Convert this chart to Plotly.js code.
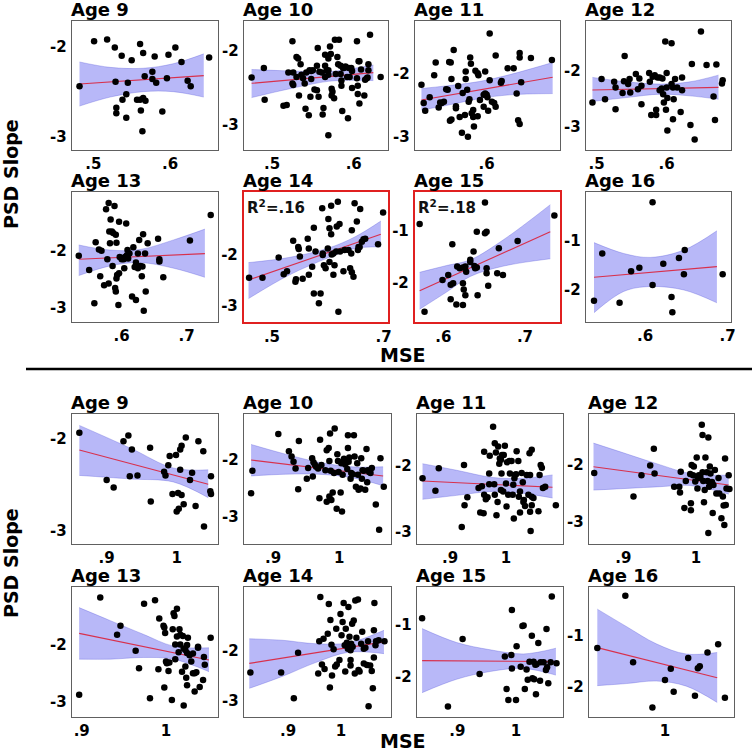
<!DOCTYPE html>
<html>
<head>
<meta charset="utf-8">
<script src="https://cdn.plot.ly/plotly-3.0.1.min.js"></script>
<style>html,body{margin:0;padding:0;background:#fff;}#chart{width:752px;height:751px;}</style>
</head>
<body>
<div id="chart"></div>
<script>
// ---------- DATA (MSE, PSD slope) ----------
const ages = [9, 10, 11, 12, 13, 14, 15, 16];
const groupLabels = ["top", "bottom"];
const r2Labels = {5: "R<sup>2</sup>=.16", 6: "R<sup>2</sup>=.18"};

const top9 = [[0.482,-2.44],[0.501,-1.94],[0.518,-1.92],[0.528,-2.01],[0.537,-2.10],[0.550,-2.15],[0.561,-1.97],[0.565,-2.07],[0.580,-2.11],[0.598,-2.09],[0.607,-2.01],[0.615,-2.17],[0.651,-2.12],[0.529,-2.39],[0.545,-2.40],[0.543,-2.53],[0.538,-2.59],[0.530,-2.68],[0.530,-2.74],[0.543,-2.79],[0.557,-2.59],[0.561,-2.59],[0.565,-2.57],[0.568,-2.60],[0.562,-2.71],[0.564,-2.94],[0.590,-2.72],[0.567,-2.33],[0.577,-2.28],[0.577,-2.36],[0.582,-2.40],[0.596,-2.35],[0.623,-2.38],[0.627,-2.44]];
const top10 = [[0.475,-2.36],[0.490,-2.23],[0.491,-2.66],[0.514,-2.74],[0.518,-2.73],[0.520,-2.29],[0.525,-1.87],[0.526,-2.29],[0.525,-2.44],[0.526,-2.46],[0.530,-2.08],[0.532,-2.10],[0.530,-2.35],[0.533,-2.60],[0.535,-2.18],[0.536,-2.32],[0.538,-2.37],[0.540,-2.44],[0.541,-2.78],[0.542,-2.29],[0.545,-2.87],[0.546,-2.26],[0.547,-2.62],[0.548,-2.38],[0.548,-2.27],[0.550,-2.26],[0.555,-2.20],[0.556,-1.96],[0.557,-2.62],[0.558,-2.28],[0.561,-2.29],[0.562,-2.86],[0.565,-2.05],[0.565,-2.20],[0.565,-2.35],[0.567,-2.26],[0.569,-2.10],[0.569,-2.26],[0.569,-2.32],[0.571,-1.94],[0.572,-2.04],[0.573,-2.60],[0.573,-2.51],[0.574,-2.55],[0.576,-2.64],[0.577,-1.85],[0.578,-2.31],[0.580,-2.08],[0.581,-2.18],[0.582,-1.85],[0.584,-2.20],[0.584,-2.31],[0.585,-2.40],[0.585,-2.47],[0.586,-2.81],[0.587,-2.23],[0.588,-2.23],[0.590,-2.21],[0.592,-2.35],[0.593,-2.91],[0.594,-2.23],[0.595,-2.35],[0.597,-2.23],[0.598,-2.27],[0.598,-2.50],[0.604,-1.87],[0.604,-2.37],[0.605,-2.47],[0.605,-2.58],[0.606,-2.14],[0.607,-2.14],[0.607,-2.71],[0.609,-2.25],[0.613,-2.60],[0.614,-2.39],[0.616,-2.37],[0.617,-2.36],[0.618,-2.26],[0.618,-2.18],[0.620,-1.78],[0.633,-2.35],[0.569,-3.14],[0.563,-2.77],[0.555,-2.53],[0.552,-2.52]];
const top11 = [[0.513,-2.18],[0.516,-2.47],[0.518,-2.59],[0.524,-2.38],[0.530,-2.03],[0.532,-1.83],[0.536,-2.54],[0.538,-2.46],[0.540,-2.47],[0.543,-2.45],[0.546,-2.25],[0.548,-2.26],[0.550,-1.82],[0.552,-1.83],[0.553,-2.09],[0.556,-1.63],[0.559,-2.55],[0.559,-2.52],[0.551,-2.75],[0.553,-2.73],[0.562,-2.20],[0.564,-2.69],[0.568,-2.31],[0.571,-2.66],[0.572,-1.97],[0.572,-2.09],[0.574,-2.26],[0.576,-2.45],[0.577,-2.41],[0.578,-1.75],[0.579,-1.85],[0.580,-2.63],[0.582,-2.69],[0.582,-2.58],[0.583,-2.84],[0.585,-1.96],[0.588,-2.00],[0.588,-2.68],[0.589,-2.03],[0.591,-2.42],[0.596,-2.34],[0.598,-1.97],[0.598,-2.32],[0.596,-2.53],[0.600,-2.34],[0.601,-2.38],[0.602,-2.59],[0.604,-1.37],[0.604,-2.11],[0.607,-2.45],[0.610,-2.47],[0.612,-2.53],[0.612,-1.72],[0.619,-2.15],[0.620,-2.12],[0.628,-1.92],[0.567,-2.94],[0.575,-3.00],[0.636,-1.92],[0.640,-2.32],[0.642,-2.74],[0.644,-2.80],[0.644,-1.68],[0.644,-1.75],[0.646,-2.14],[0.659,-1.76],[0.687,-1.79]];
const top12 = [[0.494,-2.57],[0.507,-2.15],[0.512,-2.51],[0.525,-2.20],[0.527,-2.30],[0.527,-2.69],[0.537,-2.40],[0.540,-1.74],[0.539,-2.19],[0.547,-2.15],[0.545,-2.24],[0.548,-2.39],[0.556,-2.06],[0.559,-2.33],[0.561,-2.14],[0.564,-2.27],[0.564,-2.60],[0.575,-2.04],[0.576,-2.20],[0.578,-2.79],[0.580,-2.11],[0.583,-2.08],[0.585,-2.79],[0.585,-2.70],[0.587,-2.12],[0.590,-2.35],[0.590,-2.12],[0.593,-2.32],[0.594,-2.14],[0.595,-2.42],[0.596,-2.57],[0.598,-1.48],[0.599,-2.70],[0.600,-2.04],[0.601,-2.49],[0.600,-2.30],[0.601,-3.07],[0.607,-1.51],[0.607,-2.24],[0.609,-2.87],[0.609,-2.30],[0.610,-2.51],[0.612,-2.15],[0.615,-2.30],[0.620,-2.74],[0.622,-2.35],[0.622,-2.12],[0.634,-2.97],[0.636,-1.88],[0.640,-3.23],[0.649,-1.30],[0.657,-1.90],[0.667,-2.46],[0.669,-2.88],[0.671,-1.89],[0.679,-2.23],[0.680,-2.17]];
const top13 = [[0.534,-2.09],[0.550,-2.34],[0.558,-2.93],[0.560,-1.85],[0.565,-1.98],[0.567,-2.45],[0.569,-2.00],[0.573,-2.61],[0.576,-1.27],[0.578,-2.15],[0.580,-1.16],[0.580,-2.58],[0.581,-1.66],[0.582,-1.87],[0.583,-1.45],[0.585,-1.66],[0.586,-2.27],[0.587,-1.69],[0.589,-1.21],[0.590,-2.66],[0.591,-2.72],[0.591,-1.72],[0.592,-1.86],[0.592,-2.49],[0.593,-2.43],[0.595,-2.96],[0.596,-1.49],[0.596,-2.40],[0.597,-2.11],[0.600,-2.15],[0.603,-2.15],[0.604,-2.31],[0.605,-2.11],[0.607,-1.52],[0.608,-2.08],[0.609,-1.99],[0.610,-2.14],[0.612,-2.05],[0.616,-2.81],[0.618,-1.94],[0.620,-2.29],[0.622,-2.21],[0.622,-2.87],[0.625,-2.05],[0.625,-2.31],[0.627,-1.81],[0.629,-2.27],[0.631,-2.45],[0.632,-2.28],[0.633,-1.71],[0.634,-3.06],[0.636,-2.05],[0.637,-2.72],[0.640,-1.87],[0.656,-1.79],[0.658,-2.15],[0.658,-2.19],[0.664,-2.47],[0.705,-1.82],[0.737,-1.37]];
const top14 = [[0.459,-2.45],[0.483,-2.45],[0.512,-2.05],[0.521,-2.38],[0.527,-2.32],[0.538,-1.72],[0.542,-2.53],[0.543,-2.48],[0.547,-1.84],[0.548,-1.88],[0.550,-2.03],[0.555,-2.47],[0.564,-1.68],[0.566,-1.87],[0.566,-2.39],[0.572,-2.23],[0.575,-1.46],[0.575,-2.76],[0.578,-1.93],[0.584,-2.95],[0.587,-2.76],[0.590,-1.08],[0.591,-1.97],[0.591,-2.00],[0.593,-2.20],[0.596,-2.26],[0.600,-1.87],[0.601,-1.29],[0.603,-1.47],[0.603,-2.14],[0.606,-1.03],[0.606,-1.59],[0.607,-1.99],[0.610,-1.97],[0.610,-2.39],[0.612,-2.20],[0.615,-1.93],[0.616,-1.44],[0.618,-0.95],[0.619,-3.12],[0.621,-1.39],[0.622,-1.93],[0.628,-2.32],[0.630,-1.90],[0.637,-1.90],[0.640,-2.26],[0.643,-2.34],[0.646,-2.43],[0.643,-1.51],[0.648,-0.98],[0.642,-1.97],[0.652,-1.34],[0.654,-1.90],[0.655,-1.84],[0.657,-1.84],[0.658,-1.09],[0.661,-1.74],[0.664,-1.69],[0.667,-1.68],[0.690,-1.79],[0.699,-1.16]];
const top15 = [[0.571,-0.87],[0.577,-2.56],[0.599,-1.95],[0.606,-1.85],[0.609,-2.04],[0.611,-1.26],[0.612,-2.01],[0.609,-2.32],[0.616,-2.42],[0.624,-1.71],[0.624,-2.01],[0.625,-2.13],[0.627,-1.69],[0.628,-1.79],[0.627,-2.24],[0.624,-2.43],[0.633,-1.60],[0.633,-1.56],[0.637,-1.40],[0.638,-1.68],[0.639,-1.72],[0.641,-1.71],[0.641,-1.02],[0.642,-2.24],[0.651,-0.46],[0.651,-1.05],[0.653,-1.02],[0.653,-1.72],[0.653,-1.82],[0.655,-2.06],[0.666,-1.82],[0.668,-1.34],[0.673,-1.85],[0.691,-1.20],[0.736,-0.71],[0.620,-1.72],[0.617,-1.69]];
const top16 = [[0.538,-2.22],[0.548,-1.26],[0.569,-2.26],[0.583,-1.62],[0.593,-1.55],[0.609,-1.90],[0.609,-0.22],[0.622,-1.47],[0.632,-2.14],[0.633,-2.45],[0.641,-1.35],[0.647,-1.68],[0.648,-1.19],[0.694,-1.68]];

const bot9 = [[0.861,-1.94],[0.900,-2.45],[0.910,-2.53],[0.924,-2.03],[0.931,-1.97],[0.933,-2.41],[0.936,-2.12],[0.944,-2.40],[0.962,-2.10],[0.963,-2.68],[0.982,-2.36],[0.984,-2.40],[0.988,-2.29],[0.990,-2.19],[0.994,-2.60],[0.999,-2.18],[1.000,-2.79],[1.003,-2.76],[1.005,-2.34],[1.002,-2.59],[1.005,-2.12],[1.007,-2.08],[1.007,-2.61],[1.010,-2.71],[1.013,-1.99],[1.019,-2.45],[1.022,-2.37],[1.027,-2.73],[1.031,-2.03],[1.038,-2.14],[1.039,-2.95],[1.049,-2.41],[1.048,-2.57],[1.049,-2.60]];
const bot10 = [[0.867,-2.59],[0.869,-2.20],[0.908,-1.56],[0.924,-1.86],[0.928,-1.95],[0.931,-2.04],[0.934,-2.16],[0.938,-2.52],[0.939,-1.68],[0.951,-2.34],[0.953,-2.15],[0.959,-1.98],[0.960,-2.30],[0.961,-2.05],[0.963,-2.09],[0.965,-2.13],[0.968,-2.16],[0.970,-2.68],[0.971,-1.66],[0.973,-2.10],[0.979,-2.19],[0.981,-1.84],[0.981,-2.74],[0.984,-1.80],[0.985,-2.65],[0.985,-2.03],[0.986,-1.55],[0.987,-2.20],[0.988,-2.71],[0.990,-2.58],[0.992,-2.24],[0.993,-1.46],[0.997,-1.91],[0.996,-2.86],[0.998,-2.03],[0.999,-2.22],[1.002,-2.58],[1.003,-2.07],[1.004,-2.91],[1.005,-2.27],[1.007,-1.99],[1.008,-2.07],[1.009,-2.09],[1.012,-2.17],[1.013,-1.80],[1.013,-1.58],[1.014,-2.04],[1.015,-1.97],[1.017,-2.34],[1.018,-2.24],[1.020,-2.26],[1.022,-1.58],[1.023,-1.95],[1.025,-2.48],[1.027,-2.07],[1.028,-2.27],[1.029,-2.53],[1.032,-2.51],[1.033,-1.98],[1.034,-2.34],[1.035,-2.19],[1.037,-2.20],[1.039,-2.53],[1.041,-1.82],[1.042,-2.40],[1.043,-2.19],[1.045,-2.22],[1.047,-2.24],[1.049,-2.15],[1.055,-2.79],[1.060,-3.23],[1.062,-1.98],[1.067,-2.48]];
const bot11 = [[0.851,-2.19],[0.874,-2.38],[0.880,-2.04],[0.921,-2.93],[0.925,-1.99],[0.926,-2.60],[0.931,-2.48],[0.951,-2.34],[0.954,-2.71],[0.957,-2.31],[0.960,-2.72],[0.961,-1.79],[0.961,-2.44],[0.964,-2.51],[0.967,-2.48],[0.970,-2.12],[0.970,-2.28],[0.971,-1.85],[0.977,-1.41],[0.979,-2.28],[0.980,-2.44],[0.980,-1.66],[0.982,-1.80],[0.983,-2.75],[0.985,-2.55],[0.986,-1.71],[0.988,-1.97],[0.989,-1.89],[0.991,-1.91],[0.991,-2.37],[0.992,-2.12],[0.993,-1.84],[0.995,-2.39],[0.996,-1.84],[0.998,-1.70],[1.000,-2.27],[1.001,-2.62],[1.002,-1.95],[1.004,-2.44],[1.006,-1.93],[1.007,-2.12],[1.010,-1.93],[1.012,-2.44],[1.013,-2.29],[1.014,-2.80],[1.015,-2.19],[1.016,-2.14],[1.018,-2.13],[1.019,-1.78],[1.022,-1.93],[1.023,-2.47],[1.025,-2.39],[1.025,-2.71],[1.028,-2.11],[1.030,-2.25],[1.031,-2.55],[1.032,-2.52],[1.034,-2.61],[1.037,-2.14],[1.040,-2.44],[1.042,-1.81],[1.043,-2.70],[1.043,-2.14],[1.046,-1.76],[1.046,-2.60],[1.044,-2.99],[1.046,-2.47],[1.049,-2.49],[1.058,-2.69],[1.060,-2.14],[1.062,-1.99],[1.064,-2.03],[1.066,-2.34],[1.070,-2.32],[1.089,-2.60]];
const bot12 = [[0.860,-2.15],[0.914,-2.56],[0.925,-2.19],[0.937,-2.02],[0.942,-1.73],[0.943,-2.16],[0.970,-2.39],[0.977,-2.39],[0.978,-2.49],[0.979,-2.13],[0.984,-2.76],[0.986,-2.29],[0.993,-2.68],[0.993,-2.80],[0.992,-2.17],[0.994,-2.01],[0.996,-2.19],[0.997,-2.04],[0.999,-2.30],[1.001,-1.88],[1.002,-2.42],[1.003,-2.24],[1.004,-2.19],[1.006,-2.22],[1.008,-1.31],[1.009,-1.49],[1.009,-2.14],[1.010,-2.29],[1.011,-2.66],[1.012,-2.45],[1.013,-1.88],[1.015,-2.14],[1.016,-2.29],[1.017,-1.53],[1.017,-3.20],[1.018,-2.39],[1.019,-2.04],[1.020,-2.16],[1.022,-2.31],[1.023,-2.85],[1.024,-2.36],[1.026,-2.10],[1.028,-2.51],[1.031,-2.24],[1.032,-2.51],[1.035,-2.94],[1.037,-2.56],[1.038,-2.72],[1.039,-3.06],[1.040,-1.90],[1.041,-2.71],[1.042,-2.42],[1.045,-2.19],[1.046,-2.43]];
const bot13 = [[0.897,-2.88],[0.922,-1.16],[0.942,-1.82],[0.946,-1.66],[0.964,-2.10],[0.968,-2.41],[0.974,-1.27],[0.981,-2.94],[0.987,-1.21],[0.991,-2.43],[0.992,-1.53],[0.997,-1.66],[0.998,-2.75],[0.998,-1.69],[0.999,-1.79],[1.000,-2.29],[1.001,-2.32],[1.003,-2.46],[1.004,-2.31],[1.007,-2.97],[1.008,-1.72],[1.009,-1.44],[1.010,-1.49],[1.011,-2.25],[1.011,-1.99],[1.013,-1.36],[1.013,-1.85],[1.015,-2.13],[1.016,-1.72],[1.017,-1.82],[1.017,-1.99],[1.019,-2.47],[1.020,-1.84],[1.021,-2.06],[1.021,-3.07],[1.023,-2.38],[1.023,-2.09],[1.024,-2.58],[1.025,-2.71],[1.025,-2.14],[1.026,-1.87],[1.028,-2.18],[1.030,-2.29],[1.032,-2.50],[1.032,-2.15],[1.034,-2.82],[1.034,-2.50],[1.036,-2.48],[1.038,-2.05],[1.038,-2.03],[1.040,-2.74],[1.044,-2.62],[1.045,-2.21],[1.046,-2.35],[1.053,-1.87],[1.025,-2.00]];
const bot14 = [[0.829,-2.43],[0.887,-2.43],[0.911,-2.95],[0.919,-2.03],[0.957,-2.45],[0.959,-1.80],[0.964,-2.27],[0.967,-1.75],[0.969,-2.36],[0.961,-0.91],[0.977,-1.05],[0.975,-1.65],[0.979,-2.73],[0.980,-1.37],[0.982,-1.87],[0.983,-2.49],[0.986,-1.96],[0.989,-2.31],[0.991,-1.55],[0.992,-2.27],[0.997,-2.18],[0.999,-1.25],[1.001,-1.68],[1.003,-1.41],[1.005,-1.03],[1.007,-1.88],[1.008,-2.41],[1.009,-1.55],[1.013,-1.95],[1.014,-1.11],[1.016,-1.71],[1.018,-2.18],[1.018,-2.29],[1.019,-1.85],[1.021,-1.45],[1.022,-1.91],[1.024,-1.38],[1.026,-2.45],[1.027,-0.98],[1.029,-1.73],[1.032,-0.96],[1.033,-2.38],[1.035,-2.41],[1.038,-1.85],[1.040,-1.61],[1.043,-1.95],[1.043,-2.25],[1.046,-1.93],[1.049,-2.28],[1.051,-1.80],[1.052,-3.11],[1.055,-2.29],[1.058,-2.40],[1.060,-2.75],[1.062,-1.58],[1.062,-2.13],[1.063,-1.03],[1.065,-1.88],[1.066,-1.80],[1.071,-1.78],[1.082,-1.80],[1.013,-1.91],[1.011,-1.83],[1.018,-1.98]];
const bot15 = [[0.840,-0.87],[0.884,-2.58],[0.909,-1.27],[0.938,-1.95],[0.981,-1.61],[0.984,-2.24],[0.987,-2.45],[0.992,-1.58],[0.993,-0.71],[0.993,-1.84],[1.000,-2.45],[1.001,-1.41],[1.008,-1.81],[1.011,-1.02],[1.013,-1.01],[1.015,-2.24],[1.018,-1.86],[1.020,-2.06],[1.023,-1.71],[1.027,-1.21],[1.028,-2.03],[1.030,-1.71],[1.031,-2.05],[1.033,-1.77],[1.034,-2.34],[1.035,-1.76],[1.038,-1.35],[1.041,-2.08],[1.042,-1.72],[1.047,-1.72],[1.051,-1.87],[1.052,-1.08],[1.053,-1.82],[1.055,-2.13],[1.059,-1.72],[1.061,-0.45],[1.069,-1.74]];
const bot16 = [[0.930,-1.24],[0.959,-0.22],[0.967,-1.52],[0.987,-2.41],[1.000,-1.87],[1.006,-1.65],[1.009,-2.10],[1.024,-1.44],[1.031,-2.18],[1.034,-1.64],[1.036,-1.60],[1.044,-1.33],[1.055,-1.17],[1.062,-2.22]];

// Fitted line end points [[mse0, slope0], [mse1, slope1]]
const top9Fit = [[0.482,-2.415],[0.644,-2.322]];
const top10Fit = [[0.475,-2.437],[0.624,-2.293]];
const top11Fit = [[0.513,-2.421],[0.688,-2.063]];
const top12Fit = [[0.494,-2.345],[0.674,-2.298]];
const top13Fit = [[0.534,-2.153],[0.728,-2.053]];
const top14Fit = [[0.458,-2.493],[0.695,-1.592]];
const top15Fit = [[0.571,-2.154],[0.731,-1.019]];
const top16Fit = [[0.538,-1.743],[0.687,-1.527]];
const bot9Fit = [[0.861,-2.126],[1.045,-2.496]];
const bot10Fit = [[0.867,-2.012],[1.066,-2.291]];
const bot11Fit = [[0.851,-2.232],[1.083,-2.328]];
const bot12Fit = [[0.859,-2.041],[1.045,-2.360]];
const bot13Fit = [[0.897,-1.794],[1.051,-2.265]];
const bot14Fit = [[0.827,-2.247],[1.081,-1.813]];
const bot15Fit = [[0.840,-1.690],[1.068,-1.710]];
const bot16Fit = [[0.930,-1.235],[1.054,-1.824]];

// Confidence band [mse, lower, upper]
const top9Band = [[0.482,-2.66,-2.17],[0.522,-2.56,-2.23],[0.565,-2.50,-2.24],[0.604,-2.50,-2.19],[0.644,-2.56,-2.08]];
const top10Band = [[0.475,-2.63,-2.25],[0.522,-2.51,-2.27],[0.569,-2.41,-2.28],[0.600,-2.395,-2.235],[0.624,-2.40,-2.19]];
const top11Band = [[0.513,-2.58,-2.24],[0.545,-2.51,-2.20],[0.590,-2.40,-2.13],[0.631,-2.34,-2.02],[0.688,-2.32,-1.83]];
const top12Band = [[0.494,-2.55,-2.12],[0.543,-2.48,-2.20],[0.591,-2.42,-2.24],[0.633,-2.45,-2.20],[0.674,-2.51,-2.08]];
const top13Band = [[0.534,-2.44,-1.90],[0.582,-2.27,-1.99],[0.628,-2.21,-1.98],[0.680,-2.31,-1.81],[0.728,-2.47,-1.62]];
const top14Band = [[0.458,-2.86,-2.15],[0.530,-2.40,-2.05],[0.602,-2.05,-1.86],[0.649,-1.87,-1.64],[0.695,-1.84,-1.33]];
const top15Band = [[0.571,-2.51,-1.80],[0.604,-2.18,-1.67],[0.633,-1.88,-1.56],[0.674,-1.68,-1.17],[0.731,-1.54,-0.50]];
const top16Band = [[0.538,-2.46,-1.04],[0.574,-2.03,-1.26],[0.606,-1.93,-1.34],[0.647,-2.00,-1.19],[0.687,-2.26,-0.80]];
const bot9Band = [[0.861,-2.40,-1.86],[0.900,-2.42,-1.99],[0.938,-2.44,-2.12],[0.995,-2.47,-2.32],[1.045,-2.64,-2.34]];
const bot10Band = [[0.867,-2.29,-1.74],[0.919,-2.26,-1.91],[0.969,-2.26,-2.05],[1.019,-2.32,-2.13],[1.066,-2.46,-2.13]];
const bot11Band = [[0.851,-2.51,-1.97],[0.912,-2.45,-2.07],[0.977,-2.39,-2.18],[1.031,-2.42,-2.19],[1.083,-2.49,-2.14]];
const bot12Band = [[0.859,-2.45,-1.63],[0.905,-2.42,-1.82],[0.951,-2.39,-2.01],[0.992,-2.37,-2.16],[1.045,-2.52,-2.19]];
const bot13Band = [[0.897,-2.25,-1.34],[0.934,-2.25,-1.57],[0.973,-2.22,-1.81],[1.009,-2.25,-2.02],[1.051,-2.47,-2.05]];
const bot14Band = [[0.827,-2.75,-1.75],[0.889,-2.51,-1.78],[0.952,-2.23,-1.85],[1.015,-2.02,-1.83],[1.081,-2.05,-1.58]];
const bot15Band = [[0.840,-2.31,-1.07],[0.899,-2.05,-1.34],[0.956,-1.90,-1.48],[1.013,-1.84,-1.56],[1.068,-1.97,-1.45]];
const bot16Band = [[0.930,-1.98,-0.48],[0.960,-1.94,-0.82],[0.991,-1.89,-1.16],[1.022,-1.99,-1.36],[1.054,-2.31,-1.33]];

// Tick values shown on each panel
const xTicks = [[.5,.6],[.5,.6],[.6,.7],[.5,.6],[.6,.7],[.5,.7],[.6,.7],[.6,.7],
                [.9,1],[.9,1],[.9,1],[.9,1],[.9,1],[.9,1],[.9,1],[1]];
const yTicks = [[-2,-3],[-2,-3],[-2,-3],[-2,-3],[-2,-3],[-2,-3],[-1,-2],[-1,-2],
                [-2,-3],[-2,-3],[-2,-3],[-2,-3],[-2,-3],[-2,-3],[-1,-2],[-1,-2]];

// ---------- LAYOUT ----------
const W = 752, H = 751;
const boxes = [
  [72,218,21,150],[244,388,21,150],[415,560,21,150],[586,731,21,150],
  [72,218,192,322],[244,388,192,322],[415,560,192,322],[586,731,192,322],
  [72,218,414,544],[244,391,414,544],[417,563,414,544],[589,734,414,544],
  [72,218,587,717],[244,391,587,717],[417,563,587,717],[589,734,587,717]];
const xRanges = [[0.4722,0.6626],[0.4657,0.642],[0.5044,0.6978],[0.4848,0.6919],
  [0.5236,0.7482],[0.4499,0.7078],[0.5653,0.7429],[0.5283,0.7041],
  [0.8505,1.059],[0.8563,1.0779],[0.8411,1.1018],[0.8528,1.0523],
  [0.8885,1.0617],[0.817,1.0943],[0.8313,1.0801],[0.9214,1.0714]];
const yRanges = [[-3.148,-1.715],[-3.338,-1.595],[-3.211,-1.174],[-3.417,-1.113],
  [-3.259,-0.965],[-3.322,-0.757],[-2.756,-0.256],[-2.649,-0.014],
  [-3.14,-1.737],[-3.477,-1.209],[-3.187,-1.217],[-3.39,-1.122],
  [-3.271,-0.976],[-3.327,-0.707],[-2.781,-0.265],[-2.595,-0.046]];

const scatterSets = [top9,top10,top11,top12,top13,top14,top15,top16,bot9,bot10,bot11,bot12,bot13,bot14,bot15,bot16];
const fitSets = [top9Fit,top10Fit,top11Fit,top12Fit,top13Fit,top14Fit,top15Fit,top16Fit,bot9Fit,bot10Fit,bot11Fit,bot12Fit,bot13Fit,bot14Fit,bot15Fit,bot16Fit];
const bandSets = [top9Band,top10Band,top11Band,top12Band,top13Band,top14Band,top15Band,top16Band,bot9Band,bot10Band,bot11Band,bot12Band,bot13Band,bot14Band,bot15Band,bot16Band];

const FONT = "DejaVu Sans, Liberation Sans, sans-serif";
const fmt = v => String(v).replace(/^0\./, ".").replace(/^-0\./, "-.");
const col = (arr, k) => arr.map(r => r[k]);

const traces = [];
const layout = {
  width: W, height: H,
  margin: {l:0, r:0, t:0, b:0},
  paper_bgcolor: "#fff", plot_bgcolor: "#fff",
  showlegend: false,
  font: {family: FONT, color: "#000"},
  annotations: [], shapes: []
};

const bandFill = "rgba(40,40,235,0.33)";
const bandEdge = "rgba(60,60,210,0.45)";

scatterSets.forEach((pts, i) => {
  const s = i === 0 ? "" : String(i + 1);
  const xa = "x" + s, ya = "y" + s;
  const band = bandSets[i], fit = fitSets[i];
  traces.push({x: col(band,0), y: col(band,1), xaxis: xa, yaxis: ya, mode: "lines",
    line: {shape: "spline", width: 0.6, color: bandEdge}, hoverinfo: "skip"});
  traces.push({x: col(band,0), y: col(band,2), xaxis: xa, yaxis: ya, mode: "lines",
    fill: "tonexty", fillcolor: bandFill,
    line: {shape: "spline", width: 0.6, color: bandEdge}, hoverinfo: "skip"});
  traces.push({x: col(fit,0), y: col(fit,1), xaxis: xa, yaxis: ya, mode: "lines",
    line: {color: "#d8304c", width: 1.1}, hoverinfo: "skip"});
  traces.push({x: col(pts,0), y: col(pts,1), xaxis: xa, yaxis: ya, mode: "markers",
    marker: {color: "#000", size: 6.5}, hoverinfo: "skip"});

  const b = boxes[i];
  const red = (i === 5 || i === 6);
  const axisCommon = {
    showgrid: false, zeroline: false, showline: true, mirror: true,
    linecolor: red ? "#e02020" : "#606060", linewidth: red ? 2.2 : 1.3,
    ticks: "", automargin: false, fixedrange: true,
    tickfont: {family: FONT, size: 15, color: "#000", weight: "bold"}
  };
  layout["xaxis" + s] = Object.assign({}, axisCommon, {
    domain: [b[0]/W, b[1]/W], anchor: ya, range: xRanges[i],
    tickmode: "array", tickvals: xTicks[i], ticktext: xTicks[i].map(fmt)
  });
  layout["yaxis" + s] = Object.assign({}, axisCommon, {
    domain: [1 - b[3]/H, 1 - b[2]/H], anchor: xa, range: yRanges[i],
    tickmode: "array", tickvals: yTicks[i], ticktext: yTicks[i].map(fmt),
    ticklabelstandoff: 1
  });
  layout.annotations.push({
    text: "Age " + ages[i % 8], xref: xa + " domain", yref: ya + " domain",
    x: 0, y: 1, xanchor: "left", yanchor: "bottom", xshift: -3, yshift: -1,
    showarrow: false, font: {family: FONT, size: 18, color: "#000", weight: "bold"}
  });
  if (r2Labels[i]) {
    layout.annotations.push({
      text: r2Labels[i], xref: xa + " domain", yref: ya + " domain",
      x: 0, y: 1, xanchor: "left", yanchor: "top", xshift: 1, yshift: -3,
      showarrow: false, font: {family: FONT, size: 15, color: "#111", weight: "bold"}
    });
  }
});

// shared axis labels for both groups
[[174, 355], [563, 741]].forEach(([yc, ym]) => {
  layout.annotations.push({
    text: "PSD Slope", xref: "paper", yref: "paper", x: 11/W, y: 1 - yc/H,
    xanchor: "center", yanchor: "middle", textangle: -90, showarrow: false,
    font: {family: FONT, size: 19, color: "#000", weight: "bold"}
  });
  layout.annotations.push({
    text: "MSE", xref: "paper", yref: "paper", x: 402.5/W, y: 1 - ym/H,
    xanchor: "center", yanchor: "middle", showarrow: false,
    font: {family: FONT, size: 19, color: "#000", weight: "bold"}
  });
});

// separator between the two groups
layout.shapes.push({type: "line", xref: "paper", yref: "paper",
  x0: 26/W, x1: 1, y0: 1 - 369/H, y1: 1 - 369/H,
  line: {color: "#000", width: 2.5}});

Plotly.newPlot("chart", traces, layout, {displayModeBar: false, staticPlot: true});
</script>
</body>
</html>
